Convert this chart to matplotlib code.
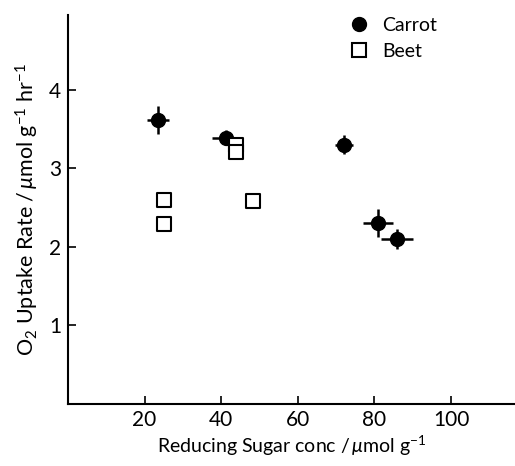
import numpy as np
import matplotlib.pyplot as plt
from matplotlib.lines import Line2D

plt.rcParams['font.family'] = ['Lato', 'DejaVu Sans']
plt.rcParams['mathtext.fontset'] = 'custom'
plt.rcParams['mathtext.rm'] = 'Lato'
plt.rcParams['mathtext.it'] = 'Lato:italic'

# Carrot (filled circles with error bars)
carrot_x = [23.5, 41.3, 72.0, 81.0, 86.0]
carrot_y = [3.61, 3.39, 3.30, 2.30, 2.10]
carrot_xerr = [3.0, 3.8, 2.3, 3.9, 4.2]
carrot_yerr = [0.18, 0.10, 0.12, 0.18, 0.13]

# Beet (open squares)
beet_x = [25.1, 25.1, 43.8, 43.8, 48.3]
beet_y = [2.59, 2.29, 3.30, 3.21, 2.58]

fig = plt.figure(figsize=(5.15, 4.66), dpi=100)
ax = fig.add_axes([0.132, 0.133, 0.868, 0.835])

ax.errorbar(carrot_x, carrot_y, xerr=carrot_xerr, yerr=carrot_yerr,
            fmt='o', color='black', ms=10, elinewidth=1.8, capsize=0,
            zorder=3)
ax.scatter(beet_x, beet_y, marker='s', s=110, facecolors='white',
           edgecolors='black', linewidths=1.5, zorder=4)

ax.set_xlim(0, 116.7)
ax.set_ylim(0, 4.95)
ax.set_xticks([20, 40, 60, 80, 100])
ax.set_yticks([1, 2, 3, 4])
ax.tick_params(direction='in', length=6, width=1.2, labelsize=15)
ax.tick_params(axis='x', pad=4)
ax.tick_params(axis='y', pad=5)
for s in ['top', 'right']:
    ax.spines[s].set_visible(False)
for s in ['left', 'bottom']:
    ax.spines[s].set_linewidth(1.5)

ax.set_xlabel(r'Reducing Sugar conc $/\,\mu$mol g$^{-1}$', fontsize=14, labelpad=3)
ax.set_ylabel(r'O$_2$ Uptake Rate $/\,\mu$mol g$^{-1}$ hr$^{-1}$', fontsize=15.5, labelpad=6)

handles = [Line2D([], [], marker='o', color='black', ls='None', ms=10, label='Carrot'),
           Line2D([], [], marker='s', mfc='white', mec='black', mew=1.5, ls='None', ms=10, label='Beet')]
ax.legend(handles=handles, loc='upper left', bbox_to_anchor=(0.607, 1.015), frameon=False,
          fontsize=14, handletextpad=0.6, labelspacing=0.45, borderaxespad=0, handlelength=1.2)

fig.savefig('out.png', dpi=100)
